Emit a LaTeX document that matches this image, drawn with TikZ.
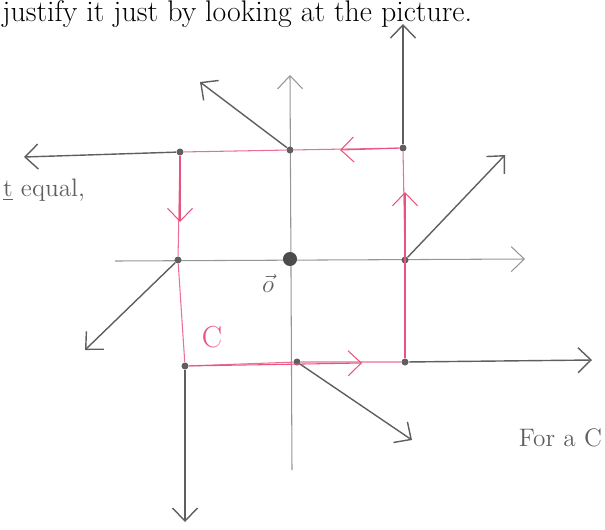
\documentclass[tikz,border=0pt]{standalone}
\usepackage{tikz}
\usepackage{xcolor}
\usepackage{amsmath}
\usetikzlibrary{arrows, arrows.meta, positioning, calc}
\definecolor{loopred}{RGB}{232,84,128}
\definecolor{pencil}{RGB}{95,95,95}
\definecolor{axisgray}{RGB}{150,150,150}

\begin{document}
\begin{tikzpicture}[
    x=0.02cm, y=-0.02cm,
    pt/.style={circle, fill=pencil, inner sep=0pt, minimum size=4pt},
    vecarrow/.style={-{Straight Barb[length=2.6mm, width=5mm]}, pencil, thick},
    axis/.style={-{Straight Barb[length=2.6mm, width=5mm]}, axisgray, semithick},
    edge/.style={loopred!85, semithick},
    mid/.style={loopred, semithick, -{Straight Barb[length=2.6mm, width=5mm]}},
    hand/.style={pencil, font=\Large}
]
    \useasboundingbox (0,0) rectangle (605,529);
    \node[anchor=north west, inner sep=0pt, font=\fontsize{17}{19}\selectfont] (top) at (2,0)
        {justify it just by looking at the picture.};

    % axes
    \coordinate (xl) at (115,261);
    \coordinate (xr) at (525,259);
    \coordinate (yb) at (292,470);
    \coordinate (yt) at (290,75);
    \draw[axis] (xl) -- (xr);
    \draw[axis] (yb) -- (yt);
    \node[circle, fill=pencil!80!black, inner sep=0pt, minimum size=8pt] (o) at (290,259) {};
    \node[hand] (olab) at (268,283) {$\vec{o}$};

    % points of the loop C
    \node[pt] (tl) at (180,152) {};
    \node[pt] (tm) at (290,150) {};
    \node[pt] (tr) at (403,148) {};
    \node[pt] (ml) at (178,260) {};
    \node[pt] (mr) at (405,260) {};
    \node[pt] (bl) at (185,366) {};
    \node[pt] (bm) at (297,362) {};
    \node[pt] (br) at (405,362) {};

    % the loop
    \draw[edge] (tr) -- (tm) -- (tl) -- (ml) -- (bl) -- (bm) -- (br) -- (mr) -- (tr);
    \draw[mid] (tr) -- (340,150);
    \draw[mid] (tl) -- (180,222);
    \draw[mid] (bl) -- (362,363);
    \draw[mid] (br) -- (405,192);
    \node[loopred, font=\LARGE] (clab) at (212,337) {C};

    % vector field
    \draw[vecarrow] (tr) -- (403,24);
    \draw[vecarrow] (tm) -- (200,82);
    \draw[vecarrow] (tl) -- (24,157);
    \draw[vecarrow] (ml) -- (85,350);
    \draw[vecarrow] (mr) -- (505,155);
    \draw[vecarrow] (bl) -- (185,522);
    \draw[vecarrow] (bm) -- (412,440);
    \draw[vecarrow] (br) -- (592,360);

    % margin notes
    \node[hand, anchor=west, inner sep=1pt] (note) at (1,190) {\underline{t} equal,};
    \node[hand, anchor=east, inner sep=1pt] (fora) at (604,438) {For a C};
\end{tikzpicture}
\end{document}
